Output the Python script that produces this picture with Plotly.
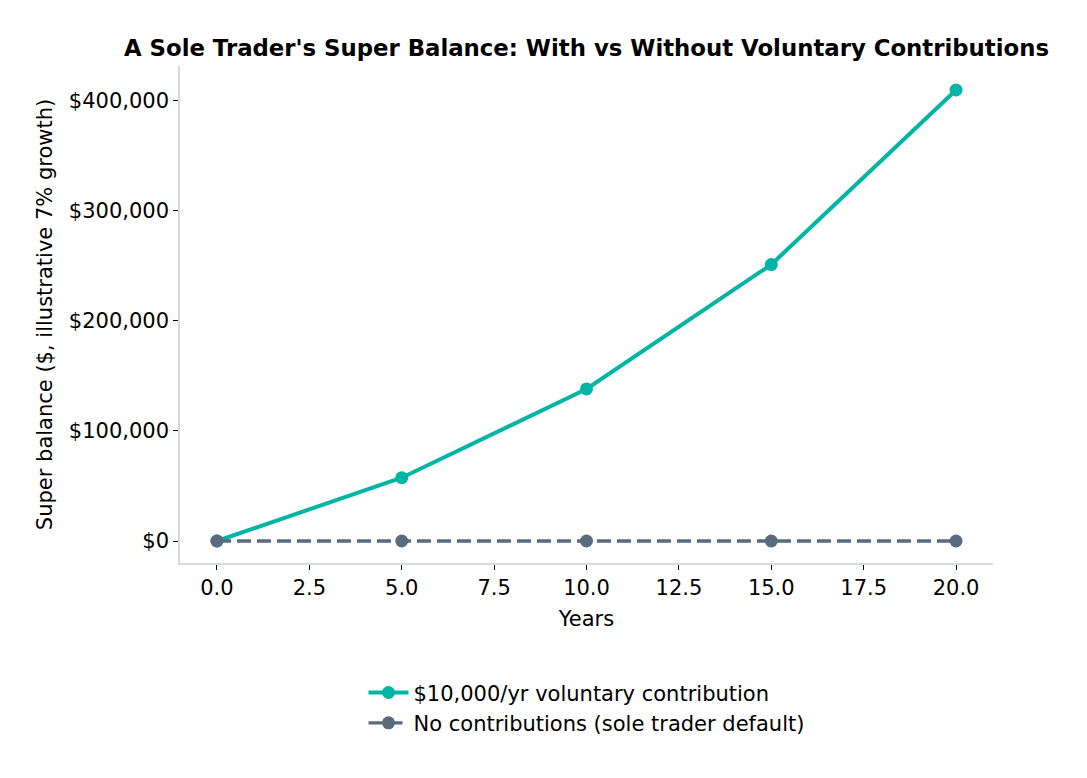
import plotly.graph_objects as go

years = [0, 5, 10, 15, 20]
with_contrib = [0, 57500, 138200, 251300, 410000]
no_contrib = [0, 0, 0, 0, 0]
x_ticks = [0, 2.5, 5, 7.5, 10, 12.5, 15, 17.5, 20]
y_ticks = [0, 100000, 200000, 300000, 400000]

teal = "#00B5A5"
slate = "#5A6B7D"
font = "DejaVu Sans"
fs = 21

fig = go.Figure()
fig.add_trace(go.Scatter(
    x=years, y=with_contrib, mode="lines+markers",
    name="$10,000/yr voluntary contribution",
    line=dict(color=teal, width=4),
    marker=dict(color=teal, size=13),
))
fig.add_trace(go.Scatter(
    x=years, y=no_contrib, mode="lines+markers",
    name="No contributions (sole trader default)",
    line=dict(color=slate, width=3.3, dash="14px,6px"),
    marker=dict(color=slate, size=13),
))

fig.update_layout(
    width=1087, height=778,
    margin=dict(l=180, r=94, t=66, b=215),
    paper_bgcolor="white", plot_bgcolor="white",
    font=dict(family=font, size=fs, color="black"),
    title=dict(
        text="<b>A Sole Trader's Super Balance: With vs Without Voluntary Contributions</b>",
        x=(180 + 993) / 2 / 1087, xanchor="center",
        y=1 - 48 / 778, yanchor="middle",
        font=dict(family=font, size=22.8, color="black"),
    ),
    legend=dict(
        orientation="v", x=0.5, xanchor="center", y=-0.22, yanchor="top",
        font=dict(family=font, size=fs, color="black"),
        tracegroupgap=0, itemwidth=40,
    ),
    showlegend=True,
)

fig.update_xaxes(
    range=[-1, 21], tickvals=x_ticks, tickformat=".1f",
    showgrid=False, zeroline=False,
    showline=True, linecolor="#D5DAE0", linewidth=1.5,
    ticks="outside", ticklen=5, tickcolor="black", tickwidth=1,
    title=dict(text="Years", font=dict(family=font, size=fs), standoff=12),
)
fig.update_yaxes(
    range=[-20000, 431800], tickvals=y_ticks, tickformat="$,.0f",
    showgrid=False, zeroline=False,
    showline=True, linecolor="#D5DAE0", linewidth=1.5,
    ticks="outside", ticklen=5, tickcolor="black", tickwidth=1,
    title=dict(text="Super balance ($, illustrative 7% growth)", font=dict(family=font, size=fs), standoff=10),
)

fig.write_html("out.html")
